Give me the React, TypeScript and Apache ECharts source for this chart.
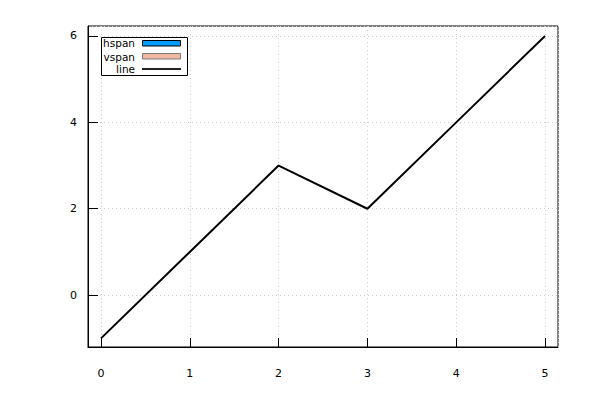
import React, { useEffect, useRef } from "react";
import * as echarts from "echarts";

const xValues = [0, 1, 2, 3, 4, 5];
const yValues = [-1, 1, 3, 2, 4, 6];
const legendNames = ["hspan", "vspan", "line"];

export default function App() {
  const ref = useRef<HTMLDivElement>(null);
  useEffect(() => {
    const chart = echarts.init(ref.current!, undefined, { renderer: "svg" });
    const font = "DejaVu Sans";
    const lx = 101, ly = 37, lw = 86, lh = 38;
    const rowY = [43, 56.5, 69];
    chart.setOption({
      animation: false,
      grid: {
        left: 88, right: 42, top: 26, bottom: 53,
        show: true, borderColor: "#000", borderWidth: 1, backgroundColor: "transparent",
      },
      xAxis: {
        type: "value",
        min: -0.146, max: 5.146, splitNumber: 5,
        axisLine: { show: true, onZero: false, lineStyle: { color: "#000", width: 1 } },
        axisTick: { show: true, inside: true, length: 9, lineStyle: { color: "#000" } },
        axisLabel: { showMinLabel: false, showMaxLabel: false, margin: 21, color: "#000", fontSize: 11, fontFamily: font },
        splitLine: { show: true, lineStyle: { color: "#cccccc", type: [1, 3], width: 1 } },
      },
      yAxis: {
        type: "value",
        min: -1.2, max: 6.23, splitNumber: 4,
        axisLine: { show: true, onZero: false, lineStyle: { color: "#000", width: 1 } },
        axisTick: { show: true, inside: true, length: 10, lineStyle: { color: "#000" } },
        axisLabel: { showMinLabel: false, showMaxLabel: false, margin: 11, color: "#000", fontSize: 11, fontFamily: font },
        splitLine: { show: true, lineStyle: { color: "#cccccc", type: [1, 3], width: 1 } },
      },
      series: [
        {
          type: "line",
          name: "line",
          data: xValues.map((x, i) => [x, yValues[i]]),
          showSymbol: false,
          lineStyle: { color: "#000", width: 2 },
          z: 5,
        },
      ],
      graphic: [
        {
          type: "rect",
          shape: { x: lx + 0.5, y: ly + 0.5, width: lw, height: lh },
          style: { fill: "#fff", stroke: "#000", lineWidth: 1 },
          z: 100,
        },
        ...legendNames.map((n, i) => ({
          type: "text",
          x: 135,
          y: rowY[i],
          style: { text: n, fill: "#000", font: `10.5px "${font}"`, textAlign: "right", textVerticalAlign: "middle" },
          z: 101,
        })),
        {
          type: "rect",
          shape: { x: 142.5, y: 40.5, width: 38, height: 5.5 },
          style: { fill: "#009AFA", stroke: "#000", lineWidth: 1 },
          z: 101,
        },
        {
          type: "rect",
          shape: { x: 142.5, y: 53.5, width: 38, height: 5.5 },
          style: { fill: "#F1B7A3", stroke: "#7a7a7a", lineWidth: 1 },
          z: 101,
        },
        {
          type: "line",
          shape: { x1: 142, y1: 69, x2: 181, y2: 69 },
          style: { stroke: "#222", lineWidth: 2 },
          z: 101,
        },
      ],
    });
    return () => chart.dispose();
  }, []);
  return <div ref={ref} style={{ width: 600, height: 400, position: "absolute", left: 0, top: 0 }} />;
}
